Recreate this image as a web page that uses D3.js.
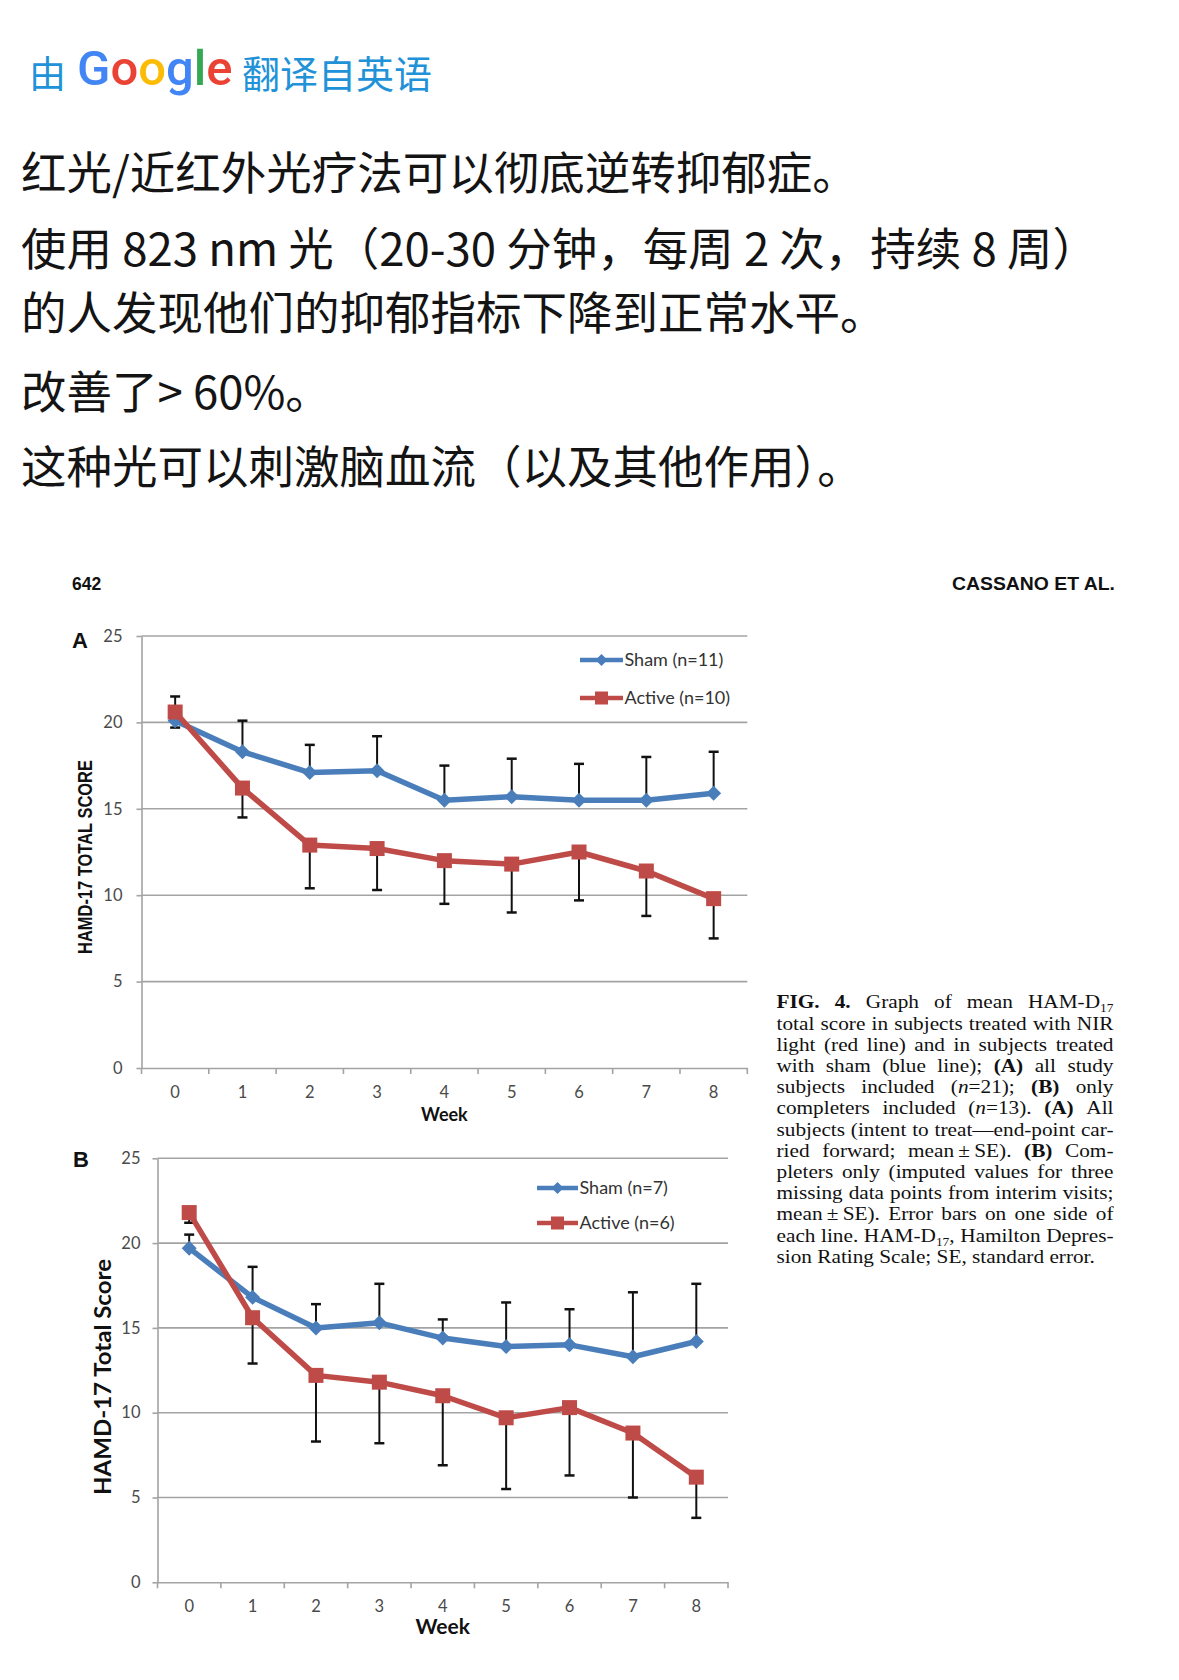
<!DOCTYPE html>
<html><head><meta charset="utf-8">
<script src="https://cdn.jsdelivr.net/npm/d3@7"></script>
<style>html,body{margin:0;padding:0;background:#fff;} svg{display:block;}</style>
</head><body>
<script>
// ---------- DATA ----------
const weeks = ["0","1","2","3","4","5","6","7","8"];
const yTickValues = [0, 5, 10, 15, 20, 25];

// Panel A: all subjects (mean, and where the one-sided SE bar ends)
const shamA       = [20.1, 18.3, 17.1, 17.2, 15.5, 15.7, 15.5, 15.5, 15.9];
const shamAErrEnd = [19.7, 20.1, 18.7, 19.2, 17.5, 17.9, 17.6, 18.0, 18.3];
const activeA       = [20.6, 16.2, 12.9, 12.7, 12.0, 11.8, 12.5, 11.4, 9.8];
const activeAErrEnd = [21.5, 14.5, 10.4, 10.3, 9.5, 9.0, 9.7, 8.8, 7.5];

// Panel B: completers only
const shamB       = [19.7, 16.8, 15.0, 15.3, 14.4, 13.9, 14.0, 13.3, 14.2];
const shamBErrEnd = [20.5, 18.6, 16.4, 17.6, 15.5, 16.5, 16.1, 17.1, 17.6];
const activeB       = [21.8, 15.6, 12.2, 11.8, 11.0, 9.7, 10.3, 8.8, 6.2];
const activeBErrEnd = [21.2, 12.9, 8.3, 8.2, 6.9, 5.5, 6.3, 5.0, 3.8];

const seriesNamesA = ["Sham (n=11)", "Active (n=10)"];
const seriesNamesB = ["Sham (n=7)", "Active (n=6)"];

// ---------- TEXT ----------
const bodyLines = [
  "红光/近红外光疗法可以彻底逆转抑郁症。",
  "使用 823 nm 光（20-30 分钟，每周 2 次，持续 8 周）",
  "的人发现他们的抑郁指标下降到正常水平。",
  "改善了> 60%。",
  "这种光可以刺激脑血流（以及其他作用）。"
];
const captionLines = [
  "*FIG. 4.* Graph of mean HAM-D~17~",
  "total score in subjects treated with NIR",
  "light (red line) and in subjects treated",
  "with sham (blue line); *(A)* all study",
  "subjects included (_n_=21); *(B)* only",
  "completers included (_n_=13). *(A)* All",
  "subjects (intent to treat—end-point car-",
  "ried forward; mean\u2009±\u2009SE). *(B)* Com-",
  "pleters only (imputed values for three",
  "missing data points from interim visits;",
  "mean\u2009±\u2009SE). Error bars on one side of",
  "each line. HAM-D~17~, Hamilton Depres-",
  "sion Rating Scale; SE, standard error."
];

// ---------- DRAW ----------
const W = 1179, H = 1680;
const svg = d3.select("body").append("svg").attr("width", W).attr("height", H);
svg.append("rect").attr("width", W).attr("height", H).attr("fill", "#fff");

const CJK = "'Noto Sans CJK SC', 'Noto Sans', sans-serif";
const linkBlue = "#2192d8";

// header
const hdr = svg.append("g");
hdr.append("text").attr("x", 29).attr("y", 88).attr("font-family", CJK).attr("font-size", 37)
  .attr("fill", linkBlue).text("由");
const gt = hdr.append("text").attr("x", 77).attr("y", 85).attr("font-family", "Roboto, 'Open Sans', sans-serif")
  .attr("font-size", 49).attr("font-weight", 500);
[["G","#4285F4"],["o","#EA4335"],["o","#FBBC05"],["g","#4285F4"],["l","#34A853"],["e","#EA4335"]]
  .forEach(([c,col]) => gt.append("tspan").attr("fill", col).text(c));
hdr.append("text").attr("x", 242).attr("y", 88).attr("font-family", CJK).attr("font-size", 38)
  .attr("fill", linkBlue).text("翻译自英语");

// body text
const bodyY = [190, 266, 330, 409, 484];
svg.append("g").selectAll("text").data(bodyLines).join("text")
  .attr("x", 21).attr("y", (d, i) => bodyY[i])
  .attr("font-family", CJK).attr("font-size", 45.5).attr("fill", "#141414")
  .text(d => d);

// page header of the figure
svg.append("text").attr("x", 72).attr("y", 590).attr("font-family", "'Liberation Sans', Arial, sans-serif")
  .attr("font-weight", "bold").attr("font-size", 17.5).attr("fill", "#111").text("642");
svg.append("text").attr("x", 952).attr("y", 590).attr("font-family", "'Liberation Sans', Arial, sans-serif")
  .attr("font-weight", "bold").attr("font-size", 17.5).attr("fill", "#111")
  .attr("textLength", 163).attr("lengthAdjust", "spacingAndGlyphs").text("CASSANO ET AL.");

const gridColor = "#a3a3a3";
const tickColor = "#4a4a4a";
const blue = "#4a7ebb";
const red = "#be4b48";

function drawPanel(p) {
  const g = svg.append("g");
  const x = d3.scaleBand().domain(weeks).range([p.x0, p.x1]);
  const y = d3.scaleLinear().domain([0, 25]).range([p.yZero, p.yTop]);
  const cx = i => x(weeks[i]) + x.bandwidth() / 2;

  // gridlines
  g.append("g").selectAll("line").data(yTickValues.filter(v => v > 0)).join("line")
    .attr("x1", p.x0).attr("x2", p.x1).attr("y1", d => y(d)).attr("y2", d => y(d))
    .attr("stroke", gridColor).attr("stroke-width", 1.6);

  // y axis
  const ya = g.append("g").attr("transform", `translate(${p.x0},0)`)
    .call(d3.axisLeft(y).tickValues(yTickValues).tickSize(5).tickPadding(p.yPad).tickSizeOuter(0));
  ya.select(".domain").attr("stroke", gridColor).attr("stroke-width", 1.6);
  ya.selectAll(".tick line").attr("stroke", gridColor).attr("stroke-width", 1.6);
  ya.selectAll(".tick text").attr("font-family", "Lato, sans-serif").attr("font-size", 16.5).attr("fill", tickColor);

  // x axis
  const xa = g.append("g").attr("transform", `translate(0,${p.yZero})`)
    .call(d3.axisBottom(x).tickSize(0).tickPadding(p.xPad).tickSizeOuter(0));
  xa.select(".domain").attr("stroke", gridColor).attr("stroke-width", 1.6);
  xa.selectAll(".tick text").attr("font-family", "Lato, sans-serif").attr("font-size", 16.5).attr("fill", tickColor);
  const bounds = weeks.map(w => x(w)).concat([p.x1]);
  g.append("g").selectAll("line").data(bounds).join("line")
    .attr("x1", d => d).attr("x2", d => d).attr("y1", p.yZero).attr("y2", p.yZero + 6)
    .attr("stroke", gridColor).attr("stroke-width", 1.6);

  // error bars
  function errBars(vals, ends) {
    const eg = g.append("g").attr("stroke", "#111").attr("stroke-width", 2);
    vals.forEach((v, i) => {
      eg.append("line").attr("x1", cx(i)).attr("x2", cx(i)).attr("y1", y(v)).attr("y2", y(ends[i]));
      eg.append("line").attr("x1", cx(i) - 5).attr("x2", cx(i) + 5).attr("y1", y(ends[i])).attr("y2", y(ends[i]))
        .attr("stroke-width", 2.5);
    });
  }
  errBars(p.sham, p.shamErr);
  errBars(p.active, p.activeErr);

  const line = d3.line().x((d, i) => cx(i)).y(d => y(d));
  const diamond = r => `M0,${-r}L${r},0L0,${r}L${-r},0Z`;

  g.append("path").datum(p.sham).attr("d", line).attr("fill", "none")
    .attr("stroke", blue).attr("stroke-width", p.lw).attr("stroke-linejoin", "round");
  g.append("g").selectAll("path").data(p.sham).join("path")
    .attr("transform", (d, i) => `translate(${cx(i)},${y(d)})`).attr("d", diamond(7.5)).attr("fill", blue);

  g.append("path").datum(p.active).attr("d", line).attr("fill", "none")
    .attr("stroke", red).attr("stroke-width", p.lw).attr("stroke-linejoin", "round");
  g.append("g").selectAll("rect").data(p.active).join("rect")
    .attr("x", (d, i) => cx(i) - 7.5).attr("y", d => y(d) - 7.5).attr("width", 15).attr("height", 15)
    .attr("fill", red);

  // legend
  const lg = g.append("g");
  [[blue, "d"], [red, "s"]].forEach(([col, m], k) => {
    const ly = p.legY[k];
    lg.append("line").attr("x1", p.legX0).attr("x2", p.legX1).attr("y1", ly).attr("y2", ly)
      .attr("stroke", col).attr("stroke-width", 4.5);
    const mx = (p.legX0 + p.legX1) / 2;
    if (m === "d") lg.append("path").attr("transform", `translate(${mx},${ly})`).attr("d", diamond(6)).attr("fill", col);
    else lg.append("rect").attr("x", mx - 6.5).attr("y", ly - 6.5).attr("width", 13).attr("height", 13).attr("fill", col);
    lg.append("text").attr("x", p.legX1 + 1.5).attr("y", ly).attr("dy", "0.35em")
      .attr("font-family", "Lato, sans-serif").attr("font-size", 18).attr("fill", "#333").text(p.names[k]);
  });

  // axis titles
  g.append("text").attr("transform", `translate(${p.titleX},${p.titleY}) rotate(-90)`)
    .attr("text-anchor", "middle").attr("dy", "0.35em")
    .attr("font-family", p.titleFont).attr("font-weight", "bold").attr("font-size", p.titleSize)
    .attr("fill", "#111").attr("textLength", p.titleLen).attr("lengthAdjust", "spacingAndGlyphs")
    .text(p.title);
  g.append("text").attr("x", (p.x0 + p.x1) / 2).attr("y", p.weekY).attr("text-anchor", "middle")
    .attr("font-family", "Lato, sans-serif").attr("font-weight", "bold").attr("font-size", p.weekSize)
    .attr("fill", "#111").text("Week");

  // panel letter
  g.append("text").attr("x", p.letterX).attr("y", p.letterY)
    .attr("font-family", "'Liberation Sans', Arial, sans-serif").attr("font-weight", "bold").attr("font-size", 22)
    .attr("fill", "#111").text(p.letter);
}

drawPanel({
  x0: 141.5, x1: 747.3, yZero: 1068, yTop: 636, yPad: 14, xPad: 18, lw: 5.5,
  sham: shamA, shamErr: shamAErrEnd, active: activeA, activeErr: activeAErrEnd,
  names: seriesNamesA, legX0: 580, legX1: 623, legY: [660, 698],
  title: "HAMD-17 TOTAL SCORE", titleX: 85, titleY: 857, titleLen: 194, titleSize: 19.5,
  titleFont: "'Liberation Sans', Arial, sans-serif",
  weekY: 1121, weekSize: 18, letter: "A", letterX: 72, letterY: 648
});
drawPanel({
  x0: 157.5, x1: 728, yZero: 1582.3, yTop: 1158.3, yPad: 12, xPad: 17.5, lw: 5.5,
  sham: shamB, shamErr: shamBErrEnd, active: activeB, activeErr: activeBErrEnd,
  names: seriesNamesB, legX0: 537, legX1: 578, legY: [1188, 1223],
  title: "HAMD-17 Total Score", titleX: 103, titleY: 1377, titleLen: 236, titleSize: 22,
  titleFont: "Lato, sans-serif",
  weekY: 1634, weekSize: 21, letter: "B", letterX: 73, letterY: 1167
});

// ---------- caption (justified, Times-like) ----------
function parseLine(s) {
  const re = /\*([^*]+)\*|_([^_]+)_|~([^~]+)~|([^*_~]+)/g;
  const runs = []; let m;
  while ((m = re.exec(s))) {
    if (m[1]) runs.push({ t: m[1], st: "b" });
    else if (m[2]) runs.push({ t: m[2], st: "i" });
    else if (m[3]) runs.push({ t: m[3], st: "s" });
    else runs.push({ t: m[4], st: "" });
  }
  const words = [[]];
  runs.forEach(r => {
    r.t.split(" ").forEach((part, i) => {
      if (i > 0) words.push([]);
      if (part) words[words.length - 1].push({ t: part, st: r.st });
    });
  });
  return words.filter(w => w.length);
}
const capX0 = 776.5, capX1 = 1113.5, capScale = 1.12;
const capW = (capX1 - capX0) / capScale;
const capG = svg.append("g").attr("transform", `translate(${capX0},0) scale(${capScale},1)`);
captionLines.forEach((ln, li) => {
  const base = 1008.5 + li * 21.2;
  const words = parseLine(ln);
  const els = words.map(w => {
    const t = capG.append("text").attr("y", base).attr("font-family", "'Liberation Serif', 'Times New Roman', serif")
      .attr("font-size", 19).attr("fill", "#111");
    let shifted = false;
    w.forEach(r => {
      const ts = t.append("tspan").text(r.t);
      if (r.st === "b") ts.attr("font-weight", "bold");
      if (r.st === "i") ts.attr("font-style", "italic");
      if (r.st === "s") { ts.attr("font-size", 12); if (!shifted) { ts.attr("dy", 4); shifted = true; } }
      else if (shifted) { ts.attr("dy", -4); shifted = false; }
    });
    return t;
  });
  const widths = els.map(e => e.node().getComputedTextLength());
  const total = d3.sum(widths);
  const last = li === captionLines.length - 1;
  let gap = (!last && els.length > 1) ? (capW - total) / (els.length - 1) : 4.75;
  gap = Math.max(gap, 3.5);
  let xx = 0;
  els.forEach((e, i) => { e.attr("x", xx); xx += widths[i] + gap; });
});
</script>
</body></html>
